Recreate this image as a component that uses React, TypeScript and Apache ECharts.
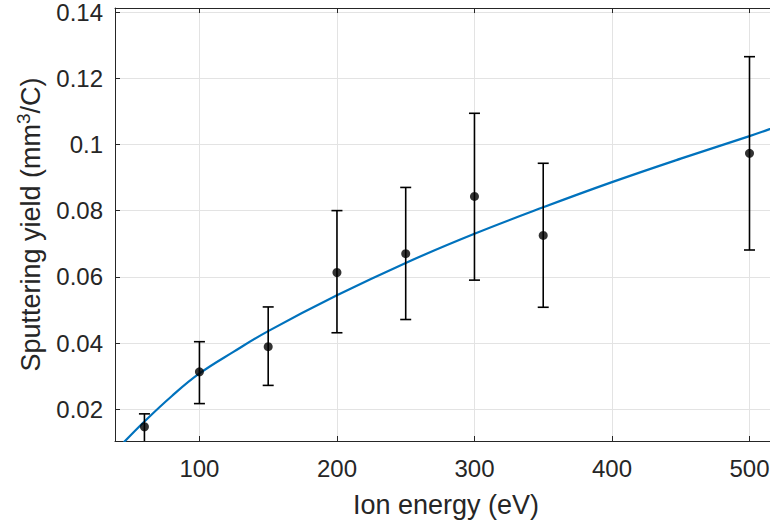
import React, { useEffect, useRef } from "react";
import * as echarts from "echarts";

const energies = [60, 100, 150, 200, 250, 300, 350, 500];
const yields = [0.0147, 0.0313, 0.0389, 0.0613, 0.0670, 0.0843, 0.0725, 0.0973];
const upperBounds = [0.0186, 0.0404, 0.0509, 0.0800, 0.0870, 0.1094, 0.0943, 0.1265];
const lowerBounds = [0.0100, 0.0217, 0.0272, 0.0431, 0.0471, 0.0590, 0.0508, 0.0681];

const fitEnergies = [45, 60, 80, 100, 125, 150, 200, 250, 300, 350, 400, 450, 500, 520];
const fitYields = [0.0100, 0.0163, 0.0240, 0.0308, 0.0374, 0.0436, 0.0544, 0.0642, 0.0730, 0.0810, 0.0886, 0.0957, 0.1025, 0.1054];

const xTicks = [100, 200, 300, 400, 500];
const yTicks = [0.02, 0.04, 0.06, 0.08, 0.1, 0.12, 0.14];

const FONT = '"Liberation Sans", Arial, Helvetica, sans-serif';
const TXT = "#262626";

export default function App() {
  const ref = useRef<HTMLDivElement>(null);
  useEffect(() => {
    if (!ref.current) return;
    const chart = echarts.init(ref.current, null, { renderer: "svg" });
    const axisLine = { show: true, lineStyle: { color: TXT, width: 1 } };
    const gridLine = { show: true, lineStyle: { color: "#e3e3e3", width: 1 } };
    chart.setOption({
      animation: false,
      backgroundColor: "#ffffff",
      grid: { left: 115, top: 7, bottom: 86, right: 0, containLabel: false },
      xAxis: [
        {
          type: "value",
          min: 38.6,
          max: 520,
          name: "Ion energy (eV)",
          nameLocation: "middle",
          nameGap: 50,
          nameTextStyle: { fontFamily: FONT, fontSize: 27, color: TXT },
          axisLine,
          axisTick: { show: true, inside: true, length: 5, customValues: xTicks, lineStyle: { color: TXT } },
          axisLabel: { customValues: xTicks, fontFamily: FONT, fontSize: 24, color: TXT, margin: 15 },
          splitLine: gridLine,
        },
        {
          type: "value",
          position: "top",
          min: 38.6,
          max: 520,
          axisLine,
          axisTick: { show: true, inside: true, length: 5, customValues: xTicks, lineStyle: { color: TXT } },
          axisLabel: { show: false },
          splitLine: { show: false },
        },
      ],
      yAxis: {
        type: "value",
        min: 0.0104,
        max: 0.1412,
        name: "Sputtering yield (mm{sup|3}/C)",
        nameLocation: "middle",
        nameGap: 68,
        nameTextStyle: {
          fontFamily: FONT,
          fontSize: 27,
          color: TXT,
          rich: {
            sup: { fontFamily: FONT, fontSize: 19, color: TXT, verticalAlign: "top", padding: [0, 0, 14, 0] },
          },
        },
        axisLine,
        axisTick: { show: true, inside: true, length: 5, customValues: yTicks, lineStyle: { color: TXT } },
        axisLabel: {
          customValues: yTicks,
          fontFamily: FONT,
          fontSize: 24,
          color: TXT,
          margin: 12,
          formatter: (v: number) => String(parseFloat(v.toFixed(3))),
        },
        splitLine: gridLine,
      },
      series: [
        {
          type: "line",
          data: fitEnergies.map((x, i) => [x, fitYields[i]]),
          smooth: 0.4,
          showSymbol: false,
          symbol: "none",
          clip: true,
          lineStyle: { color: "#0072BD", width: 2.2 },
          z: 3,
        },
        {
          type: "custom",
          clip: true,
          data: energies.map((x, i) => [x, lowerBounds[i], upperBounds[i]]),
          renderItem: (_params: any, api: any) => {
            const x = api.value(0);
            const pLo = api.coord([x, api.value(1)]);
            const pHi = api.coord([x, api.value(2)]);
            const w = 5.5;
            const style = { stroke: "#000000", lineWidth: 1.6 };
            return {
              type: "group",
              children: [
                { type: "line", shape: { x1: pLo[0], y1: pLo[1], x2: pHi[0], y2: pHi[1] }, style },
                { type: "line", shape: { x1: pHi[0] - w, y1: pHi[1], x2: pHi[0] + w, y2: pHi[1] }, style },
                { type: "line", shape: { x1: pLo[0] - w, y1: pLo[1], x2: pLo[0] + w, y2: pLo[1] }, style },
              ],
            };
          },
          z: 4,
        },
        {
          type: "scatter",
          data: energies.map((x, i) => [x, yields[i]]),
          symbol: "circle",
          symbolSize: 9,
          itemStyle: { color: "#000000" },
          z: 5,
        },
      ],
    });
    return () => chart.dispose();
  }, []);
  return (
    <div
      style={{ position: "absolute", left: 0, top: 0, width: 770, height: 527, overflow: "hidden", background: "#fff" }}
    >
      <div ref={ref} style={{ position: "absolute", left: 0, top: 0, width: 777, height: 527 }} />
    </div>
  );
}
